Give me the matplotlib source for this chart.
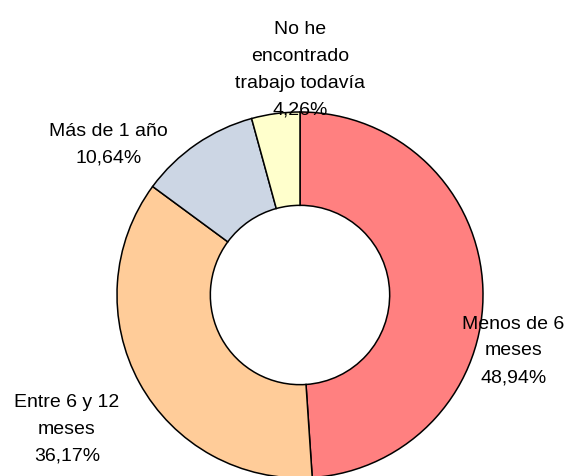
import matplotlib
matplotlib.use("Agg")
import matplotlib.pyplot as plt

labels = ["Menos de 6\nmeses", "Entre 6 y 12\nmeses", "Más de 1 año", "No he\nencontrado\ntrabajo todavía"]
values = [48.94, 36.17, 10.64, 4.26]
colors = ["#FF8080", "#FFCC99", "#CCD6E4", "#FFFFCC"]
# label positions (data coords, pie radius = 1)
label_pos = [(1.165, -0.305), (-1.273, -0.733), (-1.045, 0.82), (0.0, 1.23)]

plt.rcParams['font.family'] = ['Liberation Sans', 'DejaVu Sans']

fig = plt.figure(figsize=(5.69, 4.76), dpi=100)
ax = fig.add_axes([0, 0, 1, 1])
ax.pie(values, colors=colors, startangle=90, counterclock=False,
       radius=1.0, wedgeprops=dict(width=0.51, edgecolor='black', linewidth=1.1))

for lab, v, (x, y) in zip(labels, values, label_pos):
    txt = lab + "\n" + f"{v:.2f}".replace(".", ",") + "%"
    ax.text(x, y, txt, ha='center', va='center', fontsize=14,
            linespacing=1.75, color='black')

s = 183.0
ax.set_xlim(-300 / s, 269 / s)
ax.set_ylim(-(476 - 295) / s, 295 / s)
ax.set_aspect('equal')
ax.axis('off')

fig.savefig("out.png", dpi=100)
